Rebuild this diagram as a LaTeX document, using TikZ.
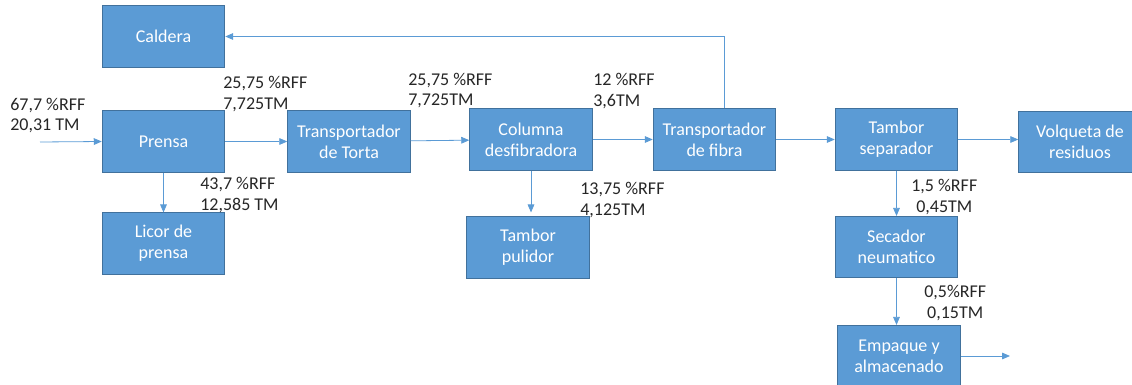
\documentclass[tikz,border=0pt]{standalone}
\usepackage{fontspec}
\setmainfont{Carlito}
\usetikzlibrary{arrows.meta}
\definecolor{boxblue}{HTML}{5B9BD5}
\definecolor{boxedge}{HTML}{41719C}
\definecolor{txtgray}{HTML}{262626}

\begin{document}
\begin{tikzpicture}[x=0.75pt,y=-0.75pt,
    box/.style={draw=boxedge,fill=boxblue,text=white,line width=0.6pt,
      minimum width=92pt,minimum height=46pt,inner sep=0pt,align=center,
      font=\fontsize{13.5}{15.75}\selectfont},
    flow/.style={draw=boxblue,line width=0.6pt,-{Triangle[length=6pt,width=5pt]}},
    lbl/.style={anchor=base west,inner sep=0pt,align=left,text=txtgray,
      font=\fontsize{13.5}{15.75}\selectfont}]
  \useasboundingbox (0,0) rectangle (1132,385);

  % equipos
  \node[box] (caldera)   at (163.5,36.5)  {Caldera};
  \node[box] (prensa)    at (163.5,141.5) {Prensa};
  \node[box] (licor)     at (163.5,243.5) {Licor de\\prensa};
  \node[box] (torta)     at (349,141.5)   {Transportador\\de Torta};
  \node[box] (columna)   at (531,139.5)   {Columna\\desfibradora};
  \node[box] (pulidor)   at (528,247.5)   {Tambor\\pulidor};
  \node[box] (fibra)     at (714.5,139.5) {Transportador\\de fibra};
  \node[box] (separador) at (896.5,139.5) {Tambor\\separador};
  \node[box] (volqueta)  at (1080,142)    {Volqueta de\\residuos};
  \node[box] (secador)   at (896.5,247)   {Secador\\neumatico};
  \node[box] (empaque)   at (899,356)     {Empaque y\\almacenado};

  \coordinate (entrada) at (40,142);
  \coordinate (salida)  at (1010,356);

  % flujos
  \draw[flow] (entrada) -- (prensa.west);
  \draw[flow] (prensa) -- (torta);
  \draw[flow] (torta) -- (columna);
  \draw[flow] (columna) -- (fibra);
  \draw[flow] (fibra) -- (separador);
  \draw[flow] (separador.east) -- (separador.east -| volqueta.west);
  \draw[flow] (prensa.south) -- (licor.north);
  \draw[flow] (columna.south) -- ([yshift=3pt]columna.south |- pulidor.north);
  \draw[flow] (separador.south) -- (secador.north);
  \draw[flow] (secador.south) -- (secador.south |- empaque.north);
  \draw[flow] (empaque.east |- salida) -- (salida);
  \draw[flow] ([xshift=7.5pt]fibra.north) |- (caldera.east);

  % balances
  \node[lbl] (m1) at (10,131)  {67,7 \%RFF\\20,31 TM};
  \node[lbl] (m2) at (223,109) {25,75 \%RFF\\7,725TM};
  \node[lbl] (m3) at (200,210) {43,7 \%RFF\\12,585 TM};
  \node[lbl] (m4) at (408,106) {25,75 \%RFF\\7,725TM};
  \node[lbl] (m5) at (593,107) {12 \%RFF\\3,6TM};
  \node[lbl] (m6) at (580,215) {13,75 \%RFF\\4,125TM};
  \node[lbl,align=center] (m7) at (911,212) {1,5 \%RFF\\0,45TM};
  \node[lbl,align=center] (m8) at (924,318) {0,5\%RFF\\0,15TM};
\end{tikzpicture}
\end{document}
